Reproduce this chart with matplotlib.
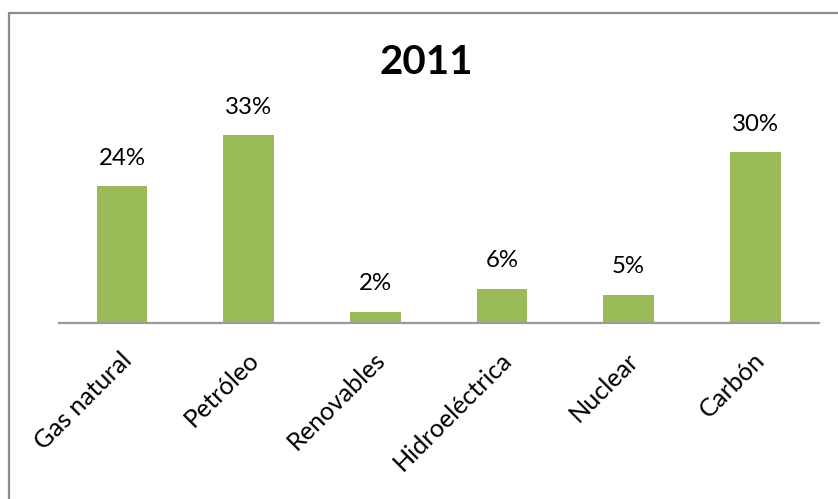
import matplotlib
matplotlib.use("Agg")
import matplotlib.pyplot as plt
import matplotlib.patches as mpatches
import matplotlib.transforms as mtransforms

categories = ["Gas natural", "Petróleo", "Renovables", "Hidroeléctrica", "Nuclear", "Carbón"]
values = [24, 33, 2, 6, 5, 30]
title = "2011"

W, H, DPI = 838, 499, 100
fig = plt.figure(figsize=(W / DPI, H / DPI), dpi=DPI)
plt.rcParams["font.family"] = ["Lato", "DejaVu Sans"]

# chart area border
fig.add_artist(mpatches.Rectangle((8.5 / W, -0.1), 1.2, (H - 12.5) / H + 0.1,
                                  transform=fig.transFigure, fill=False,
                                  edgecolor="#8c8c8c", linewidth=1.6))

left, right = 58.6 / W, 818.6 / W
bottom = (H - 323) / H
top_px = 95
ax = fig.add_axes([left, bottom, right - left, (323 - top_px) / H])

x = range(len(categories))
ax.bar(x, values, width=0.4, color="#9BBB59", zorder=2)
ax.set_xlim(-0.5, len(categories) - 0.5)
ax.set_ylim(0, (323 - top_px) / 5.7)

for s in ["top", "right", "left"]:
    ax.spines[s].set_visible(False)
ax.spines["bottom"].set_color("#9a9a9a")
ax.spines["bottom"].set_linewidth(1.6)
ax.set_yticks([])
ax.set_xticks(list(x))
ax.tick_params(axis="x", length=0, pad=18)
ax.set_xticklabels(categories, rotation=45, ha="right", va="top",
                   rotation_mode="anchor", fontsize=18.2, color="#000000")
offset = mtransforms.ScaledTranslation(-2 / DPI, 0, fig.dpi_scale_trans)
for lbl in ax.get_xticklabels():
    lbl.set_transform(lbl.get_transform() + offset)

for xi, v in zip(x, values):
    ax.annotate(f"{v}%", (xi, v), xytext=(0, 12.5), textcoords="offset points",
                ha="center", va="bottom", fontsize=17.3, color="#000000")

fig.text(426 / W, 1 - 62 / H, title, ha="center", va="center",
         fontsize=29, fontweight="bold", color="#000000")

fig.savefig("out.png", dpi=DPI, facecolor="white")
